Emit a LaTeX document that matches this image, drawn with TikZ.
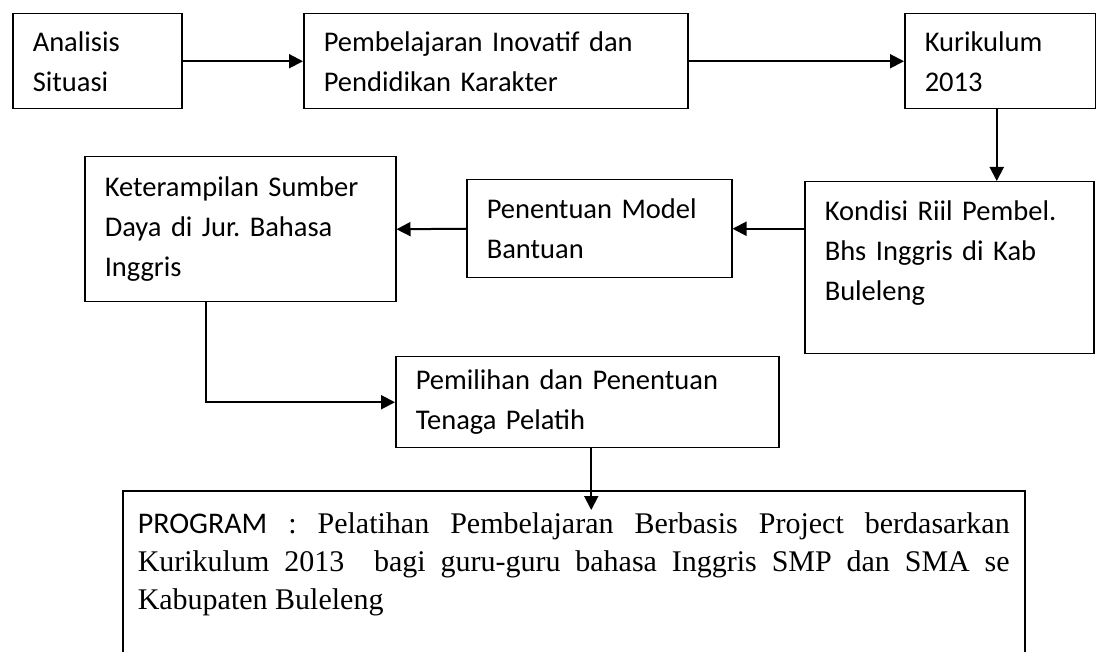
\documentclass[tikz,border=0pt]{standalone}
\usepackage{fontspec}
\setmainfont{Liberation Serif}
\newfontfamily\calibri{Carlito}
\usetikzlibrary{arrows.meta}
\frenchspacing
\begin{document}
\begin{tikzpicture}[x=1pt, y=-1pt, line width=1.5pt, >={Triangle[length=14pt,width=14pt]},
    box/.style={draw, anchor=north west, inner xsep=20pt, inner ysep=0pt, align=left,
      font=\calibri\fontsize{28.5}{40}\selectfont},
    link/.style={->, line width=2pt}]
  \useasboundingbox (0,0) rectangle (1096,652);
  \fill[white] (0,0) rectangle (1096,652);
  \clip (0,0) rectangle (1096,652);
  % top row
  \node[box, text width=129pt, minimum height=95pt] (sit) at (12,13) {Analisis\\ Situasi};
  \node[box, text width=344pt, minimum height=95pt] (inov) at (303,13) {Pembelajaran Inovatif dan\\ Pendidikan Karakter};
  \node[box, text width=151pt, minimum height=95pt] (kur) at (904,13) {Kurikulum\\ 2013};
  % middle row
  \node[box, text width=249pt, minimum height=172pt] (kond) at (804,181) {Kondisi Riil Pembel.\\ Bhs Inggris di Kab\\ Buleleng\\[-6pt]\mbox{}};
  \node[box, text width=225pt, minimum height=98pt] (model) at (466,179) {Penentuan Model\\ Bantuan};
  \node[box, text width=271pt, minimum height=145pt] (ket) at (84,156) {Keterampilan Sumber\\ Daya di Jur. Bahasa\\ Inggris};
  \node[box, text width=343pt, minimum height=91pt] (pem) at (395,356) {Pemilihan dan Penentuan\\ Tenaga Pelatih};
  % program
  \node[draw, anchor=north west, text width=872pt, inner xsep=15pt, inner ysep=21.5pt, align=justify,
    font=\fontsize{30}{38}\selectfont] (prog) at (122,490)
    {\sloppy{\calibri PROGRAM} : Pelatihan Pembelajaran Berbasis Project berdasarkan\linebreak
     Kurikulum 2013~ bagi guru-guru bahasa Inggris SMP dan SMA se\linebreak
     Kabupaten Buleleng\\[110pt]\mbox{}};
  \draw[link] (sit) -- (inov);
  \draw[link] (inov) -- (kur);
  \draw[link] ([xshift=-3.5pt]kur.south) -- ([xshift=-3.5pt]kur.south |- kond.north);
  \draw[link] (kond.west |- model.east) -- (model.east);
  \draw[link] (model.west) -- (ket.east);
  \draw[link] ([xshift=-34.5pt]ket.south) |- (pem.west);
  \draw[link] ([xshift=4pt]pem.south) -- ([xshift=4pt,yshift=-20pt]pem.south |- prog.north);
\end{tikzpicture}
\end{document}
